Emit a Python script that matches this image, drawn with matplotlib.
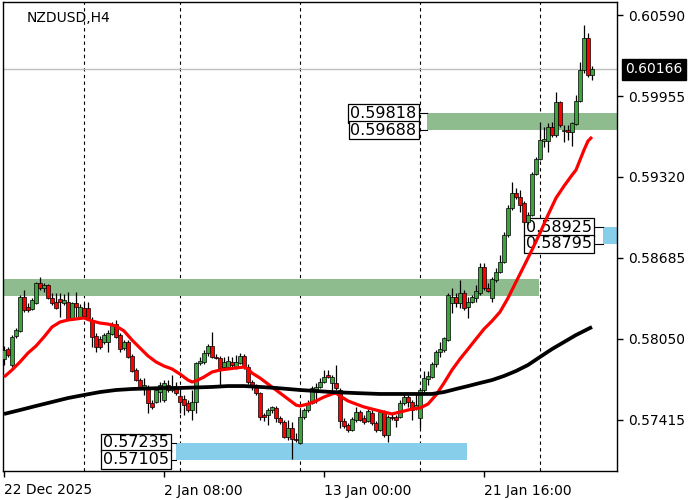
import matplotlib
matplotlib.use("Agg")
import matplotlib.pyplot as plt
import matplotlib.transforms as mtransforms
from matplotlib.patches import Rectangle

# ---------------- data ----------------
symbol_label = "NZDUSD,H4"

opens = [0.57893, 0.57971, 0.57846, 0.58073, 0.58113, 0.58379, 0.58301, 0.58285, 0.58332, 0.58489,
         0.58450, 0.58473, 0.58371, 0.58340, 0.58363, 0.58332, 0.58340, 0.58215, 0.58332, 0.58222,
         0.58293, 0.58293, 0.58199, 0.58073, 0.58050, 0.58026, 0.58026, 0.58089, 0.58167, 0.58081,
         0.57979, 0.58026, 0.57917, 0.57807, 0.57728, 0.57666, 0.57674, 0.57548, 0.57556, 0.57634,
         0.57572, 0.57689, 0.57650, 0.57658, 0.57603, 0.57579, 0.57548, 0.57493, 0.57556, 0.57862,
         0.57870, 0.57940, 0.57995, 0.57909, 0.57901, 0.57830, 0.57830, 0.57870, 0.57830, 0.57862,
         0.57917, 0.57830, 0.57713, 0.57681, 0.57626, 0.57454, 0.57454, 0.57493, 0.57509, 0.57430,
         0.57399, 0.57282, 0.57352, 0.57266, 0.57235, 0.57438, 0.57493, 0.57548, 0.57650, 0.57674,
         0.57713, 0.57768, 0.57705, 0.57705, 0.57650, 0.57407, 0.57376, 0.57336, 0.57415, 0.57478,
         0.57430, 0.57407, 0.57470, 0.57391, 0.57336, 0.57478, 0.57297, 0.57438, 0.57438, 0.57438,
         0.57548, 0.57595, 0.57556, 0.57517, 0.57430, 0.57650, 0.57736, 0.57752, 0.57854, 0.57948,
         0.57964, 0.58042, 0.58332, 0.58379, 0.58332, 0.58411, 0.58301, 0.58340, 0.58371, 0.58411,
         0.58614, 0.58450, 0.58371, 0.58512, 0.58575, 0.58653, 0.58865, 0.59077, 0.59195, 0.59163,
         0.59116, 0.58967, 0.59022, 0.59343, 0.59461, 0.59602, 0.59602, 0.59712, 0.59649, 0.59908,
         0.59681, 0.59688, 0.59673, 0.59735, 0.59916, 0.60159, 0.60410, 0.60120]
highs = [0.57995, 0.57987, 0.58081, 0.58136, 0.58395, 0.58434, 0.58332, 0.58371, 0.58497, 0.58536,
         0.58489, 0.58481, 0.58411, 0.58411, 0.58411, 0.58403, 0.58418, 0.58340, 0.58418, 0.58324,
         0.58332, 0.58340, 0.58222, 0.58097, 0.58073, 0.58097, 0.58120, 0.58183, 0.58199, 0.58097,
         0.58042, 0.58042, 0.57932, 0.57823, 0.57744, 0.57744, 0.57689, 0.57572, 0.57674, 0.57713,
         0.57728, 0.57728, 0.57768, 0.57713, 0.57666, 0.57611, 0.57572, 0.57650, 0.57870, 0.57909,
         0.57964, 0.58011, 0.58105, 0.57932, 0.57917, 0.57909, 0.57917, 0.57909, 0.57924, 0.57940,
         0.57932, 0.57854, 0.57728, 0.57697, 0.57634, 0.57470, 0.57509, 0.57525, 0.57525, 0.57446,
         0.57415, 0.57415, 0.57399, 0.57313, 0.57493, 0.57509, 0.57572, 0.57681, 0.57705, 0.57744,
         0.57807, 0.57807, 0.57768, 0.57846, 0.57666, 0.57430, 0.57391, 0.57438, 0.57517, 0.57493,
         0.57454, 0.57501, 0.57493, 0.57407, 0.57493, 0.57493, 0.57454, 0.57462, 0.57454, 0.57572,
         0.57626, 0.57611, 0.57572, 0.57626, 0.57666, 0.57799, 0.57799, 0.57870, 0.57964, 0.58026,
         0.58066, 0.58411, 0.58450, 0.58411, 0.58512, 0.58434, 0.58379, 0.58395, 0.58473, 0.58646,
         0.58646, 0.58489, 0.58536, 0.58606, 0.58708, 0.58889, 0.59100, 0.59281, 0.59234, 0.59218,
         0.59132, 0.59046, 0.59359, 0.59477, 0.59751, 0.59712, 0.59743, 0.59751, 0.59986, 0.59916,
         0.59728, 0.59728, 0.59751, 0.59963, 0.60222, 0.60512, 0.60449, 0.60190]
lows = [0.57846, 0.57909, 0.57830, 0.58058, 0.58105, 0.58262, 0.58262, 0.58277, 0.58324, 0.58434,
        0.58418, 0.58363, 0.58316, 0.58285, 0.58222, 0.58316, 0.58199, 0.58199, 0.58222, 0.58215,
        0.58215, 0.58199, 0.57987, 0.57948, 0.57971, 0.58011, 0.57948, 0.58081, 0.58058, 0.57948,
        0.57964, 0.57901, 0.57791, 0.57721, 0.57658, 0.57611, 0.57470, 0.57501, 0.57548, 0.57556,
        0.57556, 0.57634, 0.57634, 0.57611, 0.57470, 0.57454, 0.57478, 0.57415, 0.57470, 0.57846,
        0.57854, 0.57917, 0.57901, 0.57893, 0.57689, 0.57807, 0.57823, 0.57823, 0.57815, 0.57854,
        0.57815, 0.57697, 0.57650, 0.57611, 0.57415, 0.57407, 0.57376, 0.57470, 0.57399, 0.57383,
        0.57274, 0.57258, 0.57109, 0.57242, 0.57227, 0.57422, 0.57478, 0.57540, 0.57548, 0.57666,
        0.57705, 0.57744, 0.57634, 0.57650, 0.57352, 0.57352, 0.57321, 0.57329, 0.57399, 0.57407,
        0.57383, 0.57399, 0.57376, 0.57321, 0.57329, 0.57282, 0.57242, 0.57415, 0.57360, 0.57430,
        0.57532, 0.57517, 0.57415, 0.57493, 0.57352, 0.57634, 0.57689, 0.57744, 0.57830, 0.57909,
        0.57948, 0.58034, 0.58254, 0.58301, 0.58293, 0.58277, 0.58215, 0.58332, 0.58340, 0.58395,
        0.58434, 0.58418, 0.58340, 0.58497, 0.58567, 0.58646, 0.58849, 0.59061, 0.59148, 0.59046,
        0.58959, 0.58951, 0.59014, 0.59335, 0.59453, 0.59555, 0.59516, 0.59634, 0.59634, 0.59712,
        0.59594, 0.59610, 0.59563, 0.59728, 0.59908, 0.60135, 0.60104, 0.60080]
closes = [0.57964, 0.57924, 0.58066, 0.58120, 0.58379, 0.58277, 0.58277, 0.58356, 0.58489, 0.58450,
          0.58473, 0.58371, 0.58332, 0.58293, 0.58340, 0.58356, 0.58207, 0.58332, 0.58301, 0.58301,
          0.58230, 0.58215, 0.58066, 0.57987, 0.57987, 0.58081, 0.58097, 0.58167, 0.58066, 0.57971,
          0.58026, 0.57909, 0.57799, 0.57728, 0.57674, 0.57689, 0.57548, 0.57517, 0.57650, 0.57689,
          0.57705, 0.57650, 0.57674, 0.57626, 0.57556, 0.57532, 0.57493, 0.57556, 0.57862, 0.57877,
          0.57940, 0.57995, 0.57909, 0.57901, 0.57823, 0.57870, 0.57877, 0.57846, 0.57870, 0.57917,
          0.57830, 0.57713, 0.57689, 0.57626, 0.57438, 0.57438, 0.57493, 0.57517, 0.57430, 0.57399,
          0.57282, 0.57352, 0.57266, 0.57258, 0.57438, 0.57493, 0.57548, 0.57666, 0.57674, 0.57713,
          0.57752, 0.57752, 0.57752, 0.57666, 0.57407, 0.57368, 0.57336, 0.57422, 0.57478, 0.57415,
          0.57399, 0.57485, 0.57391, 0.57336, 0.57478, 0.57297, 0.57438, 0.57430, 0.57415, 0.57548,
          0.57595, 0.57556, 0.57493, 0.57532, 0.57650, 0.57744, 0.57760, 0.57854, 0.57948, 0.57971,
          0.58058, 0.58395, 0.58379, 0.58332, 0.58411, 0.58293, 0.58340, 0.58379, 0.58426, 0.58614,
          0.58450, 0.58426, 0.58520, 0.58575, 0.58653, 0.58865, 0.59077, 0.59195, 0.59163, 0.59100,
          0.58967, 0.59022, 0.59343, 0.59461, 0.59610, 0.59618, 0.59712, 0.59649, 0.59908, 0.59728,
          0.59688, 0.59673, 0.59743, 0.59916, 0.60159, 0.60410, 0.60120, 0.60166]

# moving averages (bar index, value)
red_ma_idx = [0, 2, 4, 6, 8, 10, 12, 14, 16, 18, 20, 22, 24, 26, 28, 30, 32, 34, 36, 38,
              40, 42, 44, 46, 47, 48, 50, 52, 54, 56, 58, 60, 61, 62, 64, 66, 68, 70, 72, 73,
              74, 76, 78, 80, 82, 83, 84, 86, 88, 90, 92, 94, 96, 97, 98, 100, 102, 104, 106, 108,
              110, 112, 114, 116, 118, 120, 122, 124, 126, 128, 130, 132, 134, 136, 138, 140, 142, 143,
              144, 145, 146, 147]
red_ma = [0.57752, 0.57807, 0.57870, 0.57940, 0.57995, 0.58066, 0.58144, 0.58183, 0.58199, 0.58207,
          0.58215, 0.58191, 0.58175, 0.58167, 0.58152, 0.58113, 0.58042, 0.57979, 0.57917, 0.57870,
          0.57838, 0.57815, 0.57775, 0.57728, 0.57713, 0.57721, 0.57752, 0.57791, 0.57807, 0.57815,
          0.57823, 0.57830, 0.57815, 0.57783, 0.57744, 0.57697, 0.57650, 0.57603, 0.57556, 0.57532,
          0.57525, 0.57540, 0.57564, 0.57595, 0.57619, 0.57626, 0.57603, 0.57564, 0.57540, 0.57517,
          0.57501, 0.57485, 0.57470, 0.57462, 0.57470, 0.57485, 0.57501, 0.57509, 0.57540, 0.57611,
          0.57705, 0.57807, 0.57893, 0.57971, 0.58050, 0.58128, 0.58191, 0.58262, 0.58371, 0.58497,
          0.58622, 0.58748, 0.58881, 0.59022, 0.59155, 0.59249, 0.59335, 0.59375, 0.59453, 0.59532,
          0.59602, 0.59634]
black_ma_idx = [0, 4, 8, 12, 16, 20, 24, 28, 32, 36, 40, 44, 52, 56, 60, 64, 68, 74, 78, 82,
                88, 94, 100, 104, 107, 110, 113, 116, 119, 122, 125, 128, 131, 134, 137, 140, 143, 147]
black_ma = [0.57462, 0.57493, 0.57525, 0.57556, 0.57587, 0.57611, 0.57634, 0.57650, 0.57658, 0.57662,
            0.57666, 0.57666, 0.57674, 0.57681, 0.57681, 0.57674, 0.57666, 0.57650, 0.57642, 0.57634,
            0.57626, 0.57619, 0.57619, 0.57619, 0.57619, 0.57634, 0.57658, 0.57681, 0.57705, 0.57728,
            0.57760, 0.57799, 0.57846, 0.57909, 0.57971, 0.58026, 0.58081, 0.58144]

current_price = 0.60166

# zones (upper / lower price levels)
zone_upper = [0.59818, 0.58520, 0.58925, 0.57235]
zone_lower = [0.59688, 0.58390, 0.58795, 0.57105]

week_separators = [20, 44, 74, 104, 134]
date_tick_idx = [0, 40, 80, 120]
date_tick_labels = ["22 Dec 2025", "2 Jan 08:00", "13 Jan 00:00", "21 Jan 16:00"]
price_ticks = [0.60590, 0.59955, 0.59320, 0.58685, 0.58050, 0.57415]

# ---------------- figure ----------------
W, H = 700, 500
fig = plt.figure(figsize=(W / 100, H / 100), dpi=100)
fig.patch.set_facecolor("white")
ax = fig.add_axes([3 / W, 29 / H, 614 / W, 469 / H])
ax.set_xlim(-0.25, 153.25)
ax.set_ylim(0.57015, 0.60692)

GREEN_ZONE = "#8FBC8F"
BLUE_ZONE = "#87CEEB"
BULL = "#3DA33D"
BEAR = "#FF0000"

# week separators
for s in week_separators:
    ax.axvline(s, color="black", lw=0.8, ls=(0, (3, 3)), zorder=1)

# current price line
ax.axhline(current_price, color="#C0C0C0", lw=1, zorder=1)

# zones
zone_x = [(105.75, 153.25), (-0.25, 133.75), (149.75, 153.25), (43.0, 115.75)]
zone_col = [GREEN_ZONE, GREEN_ZONE, BLUE_ZONE, BLUE_ZONE]
for (x0, x1), up, lo, c in zip(zone_x, zone_upper, zone_lower, zone_col):
    ax.add_patch(Rectangle((x0, lo), x1 - x0, up - lo, facecolor=c, edgecolor="none", zorder=2))

# zone labels
label_right = [103.5, None, 147.25, 41.5]
for (x0, x1), up, lo, xr in zip(zone_x, zone_upper, zone_lower, label_right):
    if xr is None:
        continue
    for v in (up, lo):
        ax.plot([xr, x0], [v, v], color="black", lw=0.8, zorder=3)
        ax.text(xr - 0.35, v, f"{v:.5f}", ha="right", va="center", fontsize=11.5,
                color="black", zorder=3,
                bbox=dict(boxstyle="square,pad=0.12", fc="white", ec="black", lw=0.9))

# candles
for i, (o, h, l, c) in enumerate(zip(opens, highs, lows, closes)):
    ax.plot([i, i], [l, h], color="black", lw=0.9, zorder=4, solid_capstyle="butt")
    col = BULL if c >= o else BEAR
    bottom = min(o, c)
    height = max(abs(c - o), 0.00002)
    ax.add_patch(Rectangle((i - 0.4, bottom), 0.8, height, facecolor=col,
                           edgecolor="black", lw=0.5, zorder=5))

# moving averages
ax.plot(red_ma_idx, red_ma, color="#FF0000", lw=2.3, zorder=6, solid_capstyle="butt",
        solid_joinstyle="round")
ax.plot(black_ma_idx, black_ma, color="black", lw=2.7, zorder=6, solid_capstyle="butt",
        solid_joinstyle="round")

# axes styling
for sp in ax.spines.values():
    sp.set_color("black")
    sp.set_linewidth(1)
ax.yaxis.tick_right()
ax.set_yticks(price_ticks)
ax.set_yticklabels([f"{p:.5f}" for p in price_ticks])
ax.set_xticks(date_tick_idx)
ax.set_xticklabels(date_tick_labels, ha="left")
ax.tick_params(axis="y", direction="out", length=4, width=1, labelsize=10, pad=4, colors="black")
ax.tick_params(axis="x", direction="out", length=4, width=1, labelsize=10, pad=5, colors="black")

# current price box
trans = mtransforms.blended_transform_factory(ax.transAxes, ax.transData)
ax.text(1.0 + 8 / 614, current_price, f"{current_price:.5f}", transform=trans, ha="left",
        va="center", fontsize=10, color="white", zorder=10, clip_on=False,
        bbox=dict(boxstyle="square,pad=0.25", fc="black", ec="black"))

# symbol label
ax.text(24 / 614, 1 - 16 / 469, symbol_label, transform=ax.transAxes, ha="left", va="center",
        fontsize=10, color="black", zorder=10)

fig.savefig("out.png", dpi=100)
